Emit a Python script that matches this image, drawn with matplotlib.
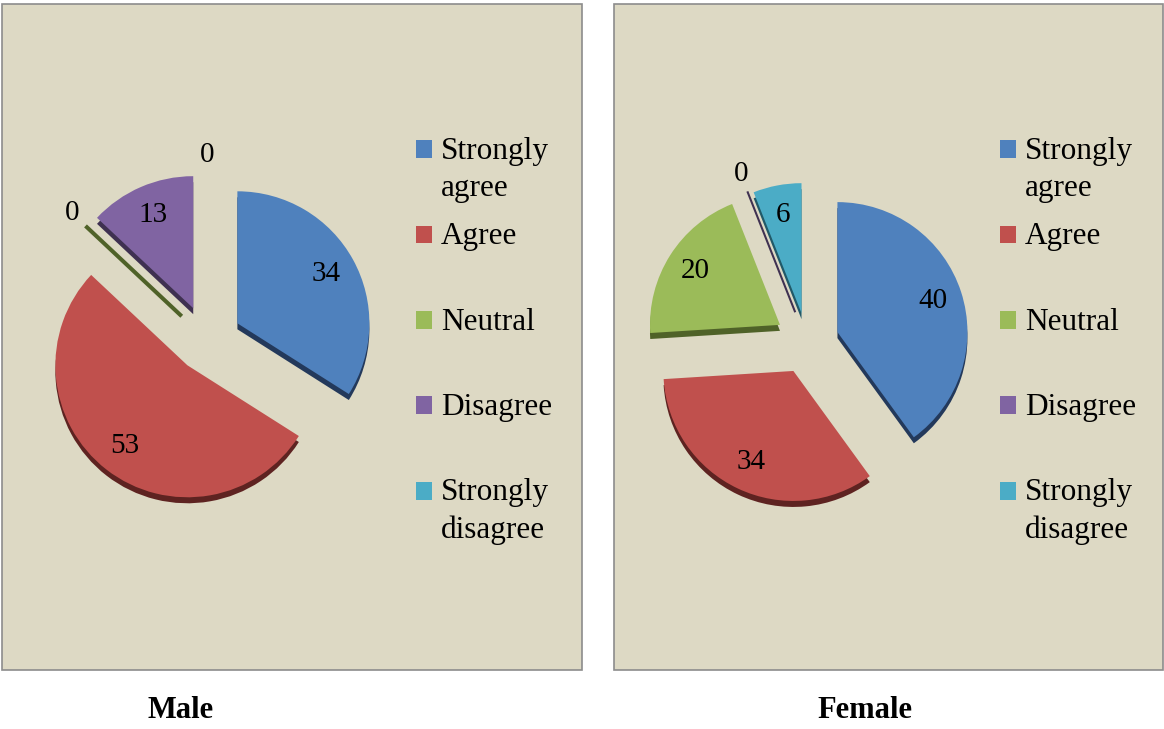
import math
import matplotlib
matplotlib.use('Agg')
import matplotlib.pyplot as plt
from matplotlib.patches import Rectangle, Patch
from matplotlib.legend_handler import HandlerPatch

categories = ['Strongly agree', 'Agree', 'Neutral', 'Disagree', 'Strongly disagree']
legend_labels = ['Strongly\nagree', 'Agree\n', 'Neutral\n', 'Disagree\n', 'Strongly\ndisagree']
male = [34, 53, 0, 13, 0]
female = [40, 34, 20, 0, 6]

colors = ['#4F81BD', '#C0504D', '#9BBB59', '#8064A2', '#4BACC6']
dark = ['#23395B', '#5E2321', '#4F6228', '#3F3151', '#215968']

plt.rcParams['font.family'] = 'Liberation Serif'

W, H = 1164, 729
fig = plt.figure(figsize=(W / 100, H / 100), dpi=100)
fig.patch.set_facecolor('white')

# panels
for x0, x1 in [(2, 582), (614, 1163)]:
    fig.add_artist(Rectangle((x0 / W, 1 - 670 / H), (x1 - x0) / W, (670 - 4) / H,
                             transform=fig.transFigure, facecolor='#DDD9C4',
                             edgecolor='#8C8C8C', linewidth=1.2, zorder=0))


def top_square(legend, orig_handle, xdescent, ydescent, width, height, fontsize):
    return Rectangle((-xdescent, -ydescent + 0.66 * fontsize), width, height)


def draw_pie(cx, cy, values, radius, explode, label_x):
    ax = fig.add_axes([(cx - 200) / W, 1 - (cy + 200) / H, 400 / W, 400 / H])
    ax.pie(values, colors=dark, startangle=90, counterclock=False, radius=radius,
           explode=explode, center=(0, -0.045), wedgeprops={'linewidth': 0})
    wedges, texts, autotexts = ax.pie(values, colors=colors, startangle=90, counterclock=False,
                                      radius=radius, explode=explode, pctdistance=0.77,
                                      autopct=lambda p: '%d' % round(p),
                                      wedgeprops={'linewidth': 0},
                                      textprops={'fontsize': 21, 'color': 'black'})
    for i, (w, t) in enumerate(zip(wedges, autotexts)):
        if values[i] == 0:
            a = math.radians(w.theta1)
            # empty slice shows only its side face, thinner near vertical
            w.set_edgecolor(dark[i])
            w.set_linewidth(4 * abs(math.cos(a)))
            t.set_position((w.center[0] + 1.14 * w.r * math.cos(a),
                            w.center[1] + 1.14 * w.r * math.sin(a)))
    ax.set_xlim(-1.5, 1.5)
    ax.set_ylim(-1.5, 1.5)
    ax.set_aspect('equal')
    ax.axis('off')

    handles = [Patch(facecolor=c, linewidth=0) for c in colors]
    leg = fig.legend(handles, legend_labels, loc='upper left',
                     bbox_to_anchor=(label_x / W, 1 - 137 / H), bbox_transform=fig.transFigure,
                     frameon=False, prop={'family': 'Liberation Serif', 'size': 22.5},
                     handlelength=0.5, handleheight=0.5, handletextpad=0.3,
                     labelspacing=0.62, borderpad=0, borderaxespad=0,
                     handler_map={Patch: HandlerPatch(patch_func=top_square)})
    for t in leg.get_texts():
        t.set_linespacing(1.36)


draw_pie(207, 340, male, 0.99, [0.26, 0.24, 0.26, 0.26, 0.26], 416)
draw_pie(807, 342, female, 0.975, [0.24, 0.24, 0.24, 0.24, 0.22], 1000)

fig.text(181 / W, 1 - 711 / H, 'Male', ha='center', va='center',
         fontsize=22, fontweight='bold', family='Liberation Serif')
fig.text(865 / W, 1 - 711 / H, 'Female', ha='center', va='center',
         fontsize=22, fontweight='bold', family='Liberation Serif')

fig.savefig('out.png', dpi=100)
